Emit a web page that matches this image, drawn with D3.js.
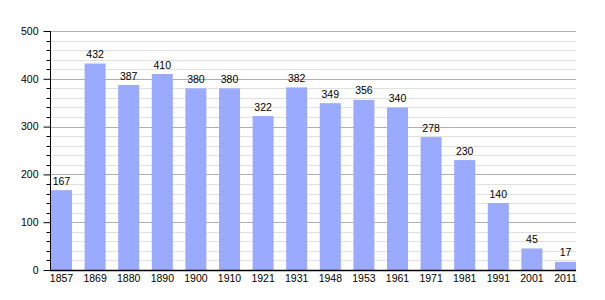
<!DOCTYPE html>
<html><head><meta charset="utf-8">
<script src="https://cdn.jsdelivr.net/npm/d3@7"></script>
<style>body{margin:0;background:#fff}svg{display:block}text{font-family:"Liberation Sans",Arial,sans-serif;font-size:10.5px;fill:#000}</style>
</head><body><svg id="c" width="605" height="300"></svg>
<script>
const years = ["1857","1869","1880","1890","1900","1910","1921","1931","1948","1953","1961","1971","1981","1991","2001","2011"];
const population = [167,432,387,410,380,380,322,382,349,356,340,278,230,140,45,17];
const yMajorTicks = [0,100,200,300,400,500];

const svg = d3.select("#c");
const x0 = 50, x1 = 576, yTop = 31, yBot = 270;
const x = d3.scaleBand().domain(years).range([x0+1, x1]).paddingInner(0.375).paddingOuter(0);
const y = d3.scaleLinear().domain([0,500]).range([yBot, yTop]);

const minor = d3.range(0, 501, 20).filter(v => v % 100 !== 0);
svg.append("g").selectAll("line").data(minor).join("line")
  .attr("x1", x0).attr("x2", x1).attr("y1", d => Math.round(y(d))+0.5).attr("y2", d => Math.round(y(d))+0.5)
  .attr("stroke", "#e0e0e0").attr("stroke-width", 1);
svg.append("g").selectAll("line").data(yMajorTicks.filter(v=>v>0)).join("line")
  .attr("x1", x0).attr("x2", x1).attr("y1", d => Math.round(y(d))+0.5).attr("y2", d => Math.round(y(d))+0.5)
  .attr("stroke", "#b0b0b0").attr("stroke-width", 1);

svg.append("g").selectAll("rect").data(population).join("rect")
  .attr("x", (d,i) => x(years[i])).attr("width", x.bandwidth())
  .attr("y", d => y(d)).attr("height", d => yBot - y(d))
  .attr("fill", "#99aaff");

svg.append("g").selectAll("text").data(population).join("text")
  .attr("x", (d,i) => x(years[i]) + x.bandwidth()/2).attr("y", d => y(d) - 5.5)
  .attr("text-anchor", "middle").text(d => d);

// y axis
const yAxis = svg.append("g").attr("transform", `translate(${x0+0.5},0)`)
  .call(d3.axisLeft(y).tickValues(yMajorTicks).tickSize(7).tickPadding(5).tickFormat(d3.format("d")));
yAxis.select(".domain").remove();
yAxis.selectAll("line").attr("stroke", "#000");
yAxis.selectAll("text").style("font-size","10.5px").attr("font-family", null);
svg.append("g").attr("transform", `translate(${x0+0.5},0)`).selectAll("line").data(minor).join("line")
  .attr("x1", -4).attr("x2", 0).attr("y1", d => Math.round(y(d))+0.5).attr("y2", d => Math.round(y(d))+0.5)
  .attr("stroke", "#000");
svg.append("line").attr("x1", x0+0.5).attr("x2", x0+0.5).attr("y1", yTop).attr("y2", yBot+1).attr("stroke", "#000");

// x axis
const xAxis = svg.append("g").attr("transform", `translate(0,${yBot+0.5})`)
  .call(d3.axisBottom(x).tickSize(0).tickPadding(4));
xAxis.select(".domain").remove();
xAxis.selectAll("text").style("font-size","10.5px").attr("font-family", null);
svg.append("line").attr("x1", x0).attr("x2", x1).attr("y1", yBot+0.5).attr("y2", yBot+0.5).attr("stroke", "#000").attr("stroke-width", 1.5);
</script></body></html>
